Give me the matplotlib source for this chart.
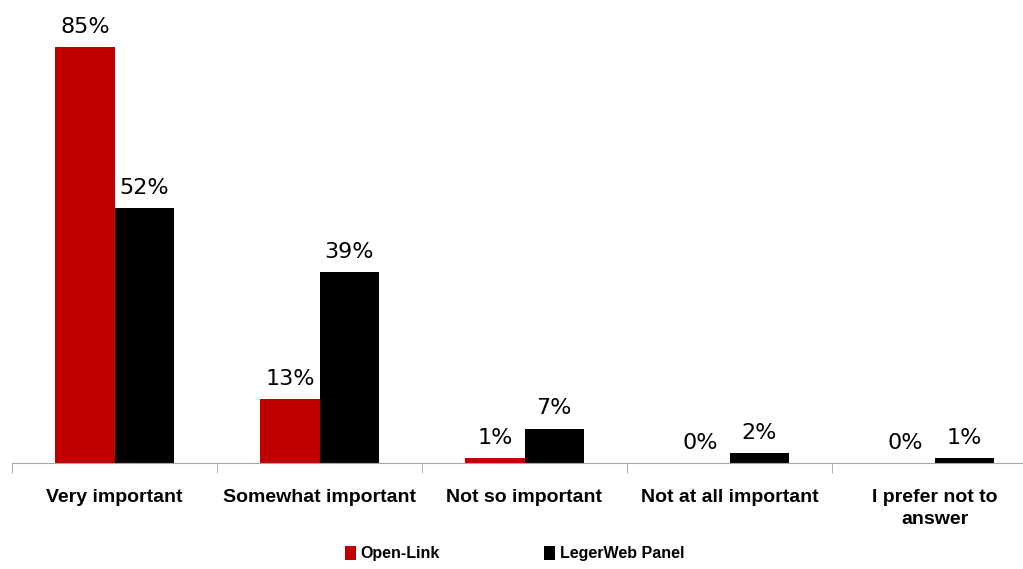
import matplotlib.pyplot as plt
import numpy as np

categories = ['Very important', 'Somewhat important', 'Not so important',
              'Not at all important', 'I prefer not to\nanswer']
open_link = [85, 13, 1, 0, 0]
legerweb = [52, 39, 7, 2, 1]
series_names = ['Open-Link', 'LegerWeb Panel']
colors = ['#c00000', '#000000']

label_font = ['Liberation Sans', 'DejaVu Sans']

fig = plt.figure(figsize=(10.23, 5.69), dpi=100)
# axes runs a little past the right edge, like the original slide export
ax = fig.add_axes([12 / 1023, 106 / 569, 1025 / 1023, 463 / 569])

x = np.arange(len(categories))
width = 0.288

for i, (vals, name, col) in enumerate(zip([open_link, legerweb], series_names, colors)):
    pos = x + (i - 0.5) * width
    bars = ax.bar(pos, vals, width, color=col, label=name)
    for b, v in zip(bars, vals):
        ax.text(b.get_x() + b.get_width() / 2, v + 2.1, f'{v}%',
                ha='center', va='bottom', fontsize=16, family='DejaVu Sans')

ax.set_xlim(-0.5, len(categories) - 0.5)
ax.set_ylim(0, 94.6)

for s in ['top', 'right', 'left']:
    ax.spines[s].set_visible(False)
ax.spines['bottom'].set_color('#a6a6a6')
ax.set_yticks([])

# tick marks sit between the categories
ax.set_xticks(np.arange(len(categories)) - 0.5, minor=True)
ax.tick_params(axis='x', which='minor', length=7, color='#a6a6a6', direction='out')
ax.tick_params(axis='x', which='major', length=0, pad=19)
ax.set_xticks(x)
ax.set_xticklabels(categories, fontsize=14, fontweight='bold', family=label_font,
                   linespacing=1.35, va='top')
for t in ax.get_xticklabels():
    t.set_multialignment('center')

fig.legend(loc='lower center', bbox_to_anchor=(0.503, -0.012), ncol=2, frameon=False,
           prop={'family': label_font, 'weight': 'bold', 'size': 11.5},
           handlelength=0.7, handleheight=1.0, handletextpad=0.3, columnspacing=6.5)

fig.savefig('out.png', dpi=100)
